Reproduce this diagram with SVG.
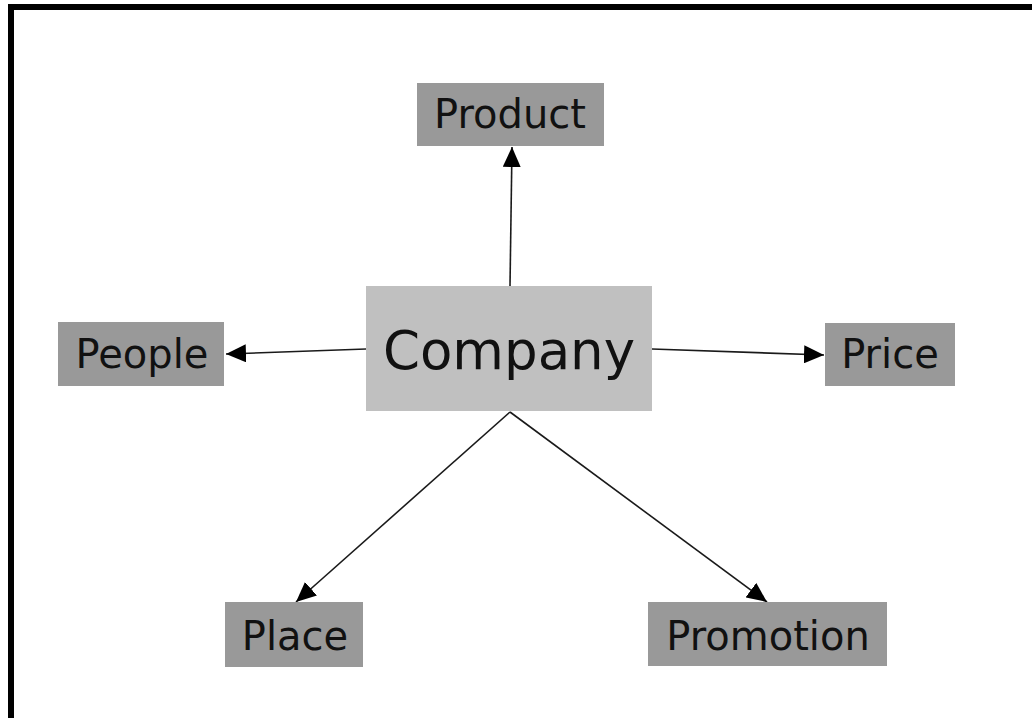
<svg xmlns="http://www.w3.org/2000/svg" width="1032" height="718" viewBox="0 0 1032 718">
<style>
.box{fill:#999999;}
.main{fill:#c0c0c0;}
.lbl{font-family:"DejaVu Sans",Verdana,sans-serif;font-size:40px;fill:#111;text-anchor:middle;}
.big{font-size:53px;}
.edge{stroke:#1a1a1a;stroke-width:1.6;fill:none;marker-end:url(#ah);}
</style>
<defs>
<marker id="ah" viewBox="0 0 20 18" refX="20" refY="9" markerWidth="20" markerHeight="18" markerUnits="userSpaceOnUse" orient="auto">
<path d="M0,0 L20,9 L0,18 Z" fill="#000"/>
</marker>
</defs>
<rect x="0" y="0" width="1032" height="718" fill="#fff"/>
<path d="M11,718 V7 H1032" stroke="#000" stroke-width="6" fill="none"/>
<g id="connectors">
<line class="edge" x1="510" y1="286" x2="512" y2="147"/>
<line class="edge" x1="366" y1="349" x2="226" y2="354"/>
<line class="edge" x1="652" y1="349" x2="824" y2="355"/>
<line class="edge" x1="510" y1="412" x2="296" y2="602"/>
<line class="edge" x1="510" y1="412" x2="767" y2="602"/>
</g>
<g id="company"><rect class="main" x="366" y="286" width="286" height="125"/><text class="lbl big" x="509" y="369">Company</text></g>
<g id="product"><rect class="box" x="417" y="83" width="187" height="63"/><text class="lbl" x="510" y="128">Product</text></g>
<g id="people"><rect class="box" x="58" y="322" width="166" height="64"/><text class="lbl" x="142" y="368">People</text></g>
<g id="price"><rect class="box" x="825" y="323" width="130" height="63"/><text class="lbl" x="890" y="368">Price</text></g>
<g id="place"><rect class="box" x="225" y="602" width="138" height="65"/><text class="lbl" x="295" y="650">Place</text></g>
<g id="promotion"><rect class="box" x="648" y="602" width="239" height="64"/><text class="lbl" x="768" y="650">Promotion</text></g>
</svg>
